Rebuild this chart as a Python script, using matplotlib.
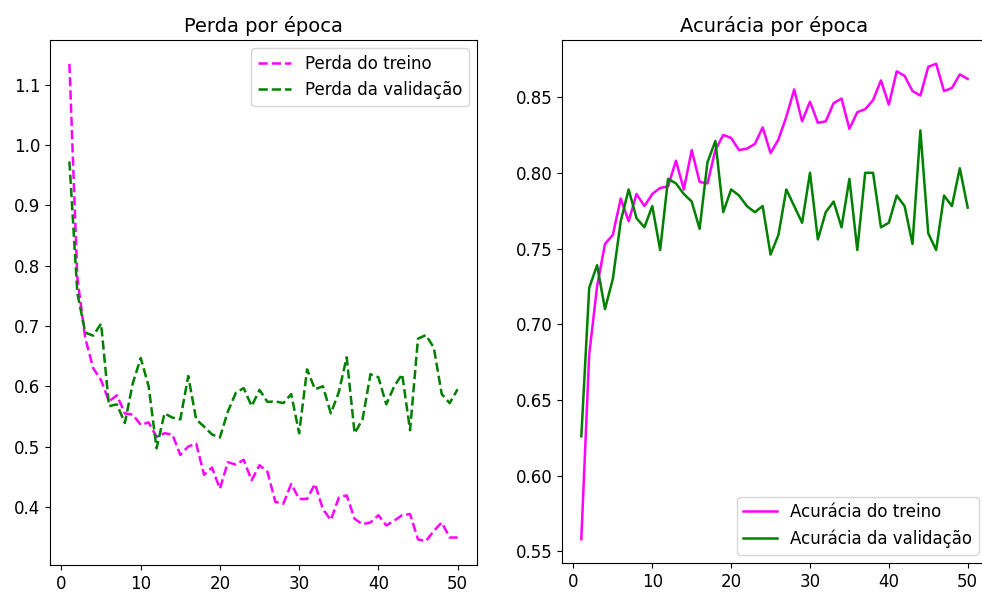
import numpy as np
import matplotlib
matplotlib.use("Agg")
import matplotlib.pyplot as plt

epochs = np.arange(1, 51)

train_loss = [1.135, 0.78, 0.68, 0.63, 0.61, 0.575, 0.585, 0.555, 0.553, 0.536,
              0.54, 0.516, 0.522, 0.52, 0.486, 0.50, 0.505, 0.453, 0.465, 0.43,
              0.474, 0.47, 0.478, 0.444, 0.469, 0.458, 0.408, 0.405, 0.438, 0.413,
              0.413, 0.438, 0.396, 0.378, 0.415, 0.419, 0.38, 0.371, 0.374, 0.386,
              0.369, 0.377, 0.386, 0.388, 0.346, 0.343, 0.36, 0.374, 0.349, 0.349]
val_loss = [0.973, 0.755, 0.689, 0.684, 0.704, 0.567, 0.57, 0.539, 0.605, 0.647,
            0.60, 0.497, 0.555, 0.548, 0.545, 0.617, 0.545, 0.533, 0.52, 0.515,
            0.558, 0.589, 0.597, 0.567, 0.594, 0.574, 0.575, 0.572, 0.587, 0.522,
            0.628, 0.595, 0.60, 0.555, 0.59, 0.648, 0.522, 0.545, 0.62, 0.615,
            0.57, 0.60, 0.62, 0.527, 0.679, 0.685, 0.664, 0.587, 0.572, 0.595]

train_acc = [0.558, 0.68, 0.725, 0.753, 0.759, 0.783, 0.768, 0.786, 0.778, 0.786,
             0.79, 0.791, 0.808, 0.789, 0.815, 0.794, 0.793, 0.815, 0.825, 0.823,
             0.815, 0.816, 0.819, 0.830, 0.813, 0.822, 0.837, 0.855, 0.834, 0.847,
             0.833, 0.834, 0.846, 0.849, 0.829, 0.84, 0.842, 0.848, 0.861, 0.845,
             0.867, 0.864, 0.854, 0.851, 0.870, 0.872, 0.854, 0.856, 0.865, 0.862]
val_acc = [0.626, 0.724, 0.739, 0.71, 0.73, 0.768, 0.789, 0.77, 0.764, 0.778,
           0.749, 0.796, 0.793, 0.786, 0.781, 0.763, 0.807, 0.821, 0.774, 0.789,
           0.785, 0.778, 0.774, 0.778, 0.746, 0.759, 0.789, 0.778, 0.767, 0.80,
           0.756, 0.774, 0.781, 0.764, 0.796, 0.749, 0.80, 0.80, 0.764, 0.767,
           0.785, 0.778, 0.753, 0.828, 0.76, 0.749, 0.785, 0.778, 0.803, 0.777]

fig = plt.figure(figsize=(9.82, 5.97), dpi=100)
ax1 = fig.add_axes([50 / 982, 32 / 597, 427 / 982, 525 / 597])
ax2 = fig.add_axes([562 / 982, 34 / 597, 425 / 982, 523 / 597])

# perda
ax1.plot(epochs, train_loss, color='magenta', linestyle='--', lw=1.8, label='Perda do treino')
ax1.plot(epochs, val_loss, color='green', linestyle='--', lw=1.8, label='Perda da validação')
ax1.set_title('Perda por época', fontsize=14)
ax1.legend(loc='upper right', fontsize=12)
ax1.tick_params(labelsize=12)

# acuracia
ax2.plot(epochs, train_acc, color='magenta', lw=1.8, label='Acurácia do treino')
ax2.plot(epochs, val_acc, color='green', lw=1.8, label='Acurácia da validação')
ax2.set_title('Acurácia por época', fontsize=14)
ax2.legend(loc='lower right', fontsize=12)
ax2.tick_params(labelsize=12)

fig.savefig('out.png', dpi=100)
plt.close(fig)
